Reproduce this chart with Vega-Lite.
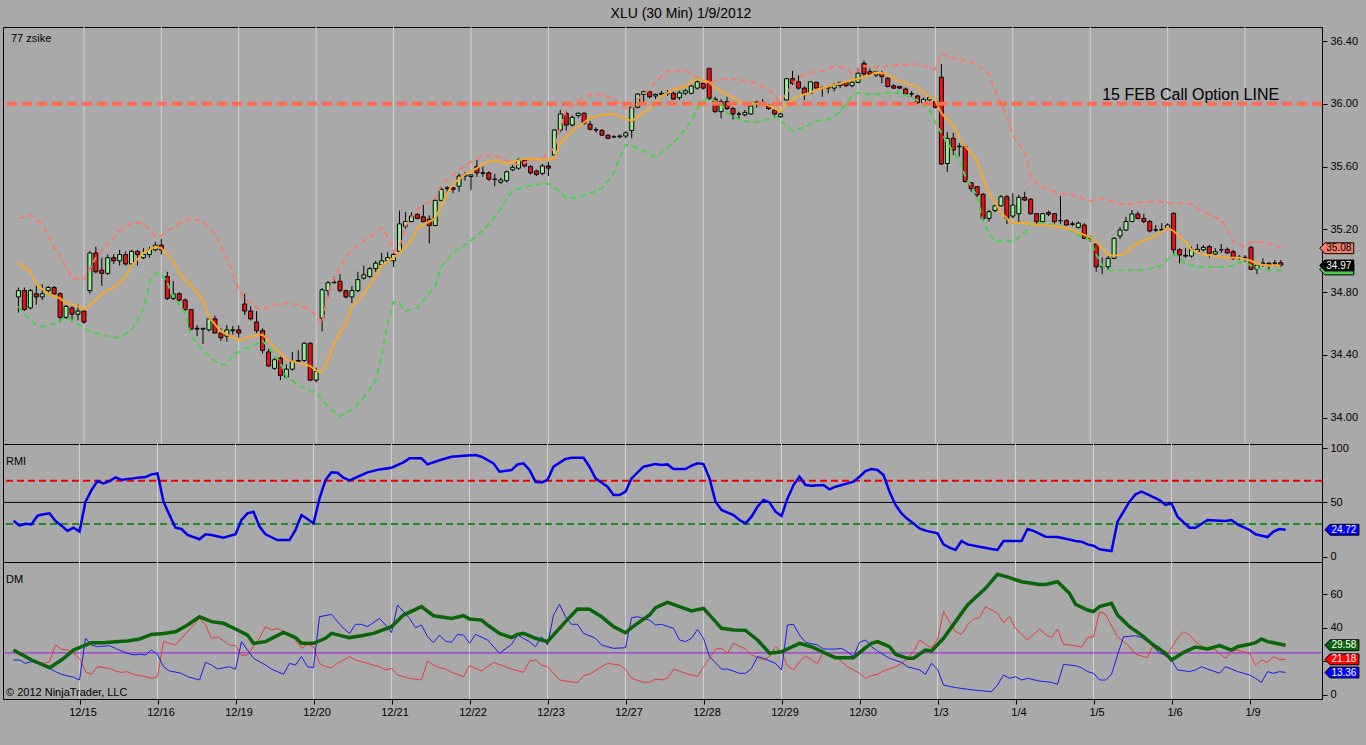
{
  "$schema": "https://vega.github.io/schema/vega-lite/v6.json",
  "background": "#a9a9a9",
  "padding": {"left": 0, "top": 7, "right": 10, "bottom": 30},
  "title": {"text": "XLU (30 Min)  1/9/2012", "fontSize": 14, "fontWeight": "normal", "font": "Liberation Sans", "color": "#000000", "anchor": "middle", "frame": "bounds", "offset": 5},
  "spacing": 0,
  "bounds": "flush",
  "resolve": {"scale": {"color": "independent", "y": "independent"}},
  "datasets": {
    "days": [{"i":11},{"i":24},{"i":37},{"i":50},{"i":63},{"i":76},{"i":89},{"i":102},{"i":115},{"i":128},{"i":141},{"i":154},{"i":167},{"i":180},{"i":193},{"i":206}],
    "candles": [
      {"i":0,"o":34.77,"h":34.83,"l":34.67,"c":34.81},{"i":1,"o":34.81,"h":34.83,"l":34.68,"c":34.69},{"i":2,"o":34.70,"h":34.82,"l":34.69,"c":34.81},{"i":3,"o":34.79,"h":34.86,"l":34.72,"c":34.77},
      {"i":4,"o":34.77,"h":34.85,"l":34.75,"c":34.79},{"i":5,"o":34.81,"h":34.84,"l":34.79,"c":34.83},{"i":6,"o":34.83,"h":34.84,"l":34.78,"c":34.79},{"i":7,"o":34.79,"h":34.80,"l":34.61,"c":34.64},
      {"i":8,"o":34.64,"h":34.72,"l":34.63,"c":34.71},{"i":9,"o":34.70,"h":34.71,"l":34.61,"c":34.66},{"i":10,"o":34.66,"h":34.72,"l":34.62,"c":34.68},{"i":11,"o":34.68,"h":34.70,"l":34.60,"c":34.61},
      {"i":12,"o":34.81,"h":35.06,"l":34.79,"c":35.05},{"i":13,"o":35.05,"h":35.09,"l":34.92,"c":34.93},{"i":14,"o":34.94,"h":35.02,"l":34.84,"c":34.92},{"i":15,"o":34.92,"h":35.04,"l":34.91,"c":35.02},
      {"i":16,"o":35.02,"h":35.04,"l":34.98,"c":35.00},{"i":17,"o":35.00,"h":35.07,"l":34.97,"c":35.04},{"i":18,"o":35.04,"h":35.06,"l":34.97,"c":34.98},{"i":19,"o":34.98,"h":35.07,"l":34.97,"c":35.06},
      {"i":20,"o":35.06,"h":35.07,"l":34.97,"c":35.04},{"i":21,"o":35.02,"h":35.08,"l":35.01,"c":35.04},{"i":22,"o":35.04,"h":35.09,"l":35.02,"c":35.07},{"i":23,"o":35.07,"h":35.12,"l":35.06,"c":35.10},
      {"i":24,"o":35.10,"h":35.14,"l":35.04,"c":35.07},{"i":25,"o":34.90,"h":34.93,"l":34.75,"c":34.76},{"i":26,"o":34.76,"h":34.87,"l":34.75,"c":34.79},{"i":27,"o":34.79,"h":34.80,"l":34.74,"c":34.75},
      {"i":28,"o":34.75,"h":34.76,"l":34.68,"c":34.69},{"i":29,"o":34.69,"h":34.69,"l":34.56,"c":34.565},{"i":30,"o":34.57,"h":34.59,"l":34.52,"c":34.565},{"i":31,"o":34.565,"h":34.57,"l":34.47,"c":34.57},
      {"i":32,"o":34.56,"h":34.65,"l":34.55,"c":34.63},{"i":33,"o":34.63,"h":34.65,"l":34.54,"c":34.54},{"i":34,"o":34.54,"h":34.57,"l":34.49,"c":34.51},{"i":35,"o":34.52,"h":34.59,"l":34.485,"c":34.56},
      {"i":36,"o":34.555,"h":34.585,"l":34.53,"c":34.56},{"i":37,"o":34.56,"h":34.59,"l":34.51,"c":34.54},{"i":38,"o":34.725,"h":34.79,"l":34.655,"c":34.68},{"i":39,"o":34.68,"h":34.71,"l":34.62,"c":34.63},
      {"i":40,"o":34.61,"h":34.68,"l":34.54,"c":34.555},{"i":41,"o":34.555,"h":34.57,"l":34.41,"c":34.43},{"i":42,"o":34.42,"h":34.44,"l":34.325,"c":34.33},{"i":43,"o":34.315,"h":34.38,"l":34.305,"c":34.37},
      {"i":44,"o":34.38,"h":34.39,"l":34.24,"c":34.27},{"i":45,"o":34.26,"h":34.34,"l":34.25,"c":34.31},{"i":46,"o":34.31,"h":34.42,"l":34.30,"c":34.36},{"i":47,"o":34.36,"h":34.43,"l":34.355,"c":34.365},
      {"i":48,"o":34.365,"h":34.48,"l":34.355,"c":34.475},{"i":49,"o":34.475,"h":34.48,"l":34.235,"c":34.24},{"i":50,"o":34.24,"h":34.32,"l":34.225,"c":34.295},{"i":51,"o":34.635,"h":34.825,"l":34.55,"c":34.815},
      {"i":52,"o":34.81,"h":34.87,"l":34.77,"c":34.86},{"i":53,"o":34.86,"h":34.90,"l":34.855,"c":34.865},{"i":54,"o":34.87,"h":34.915,"l":34.80,"c":34.81},{"i":55,"o":34.81,"h":34.815,"l":34.76,"c":34.77},
      {"i":56,"o":34.77,"h":34.84,"l":34.73,"c":34.81},{"i":57,"o":34.81,"h":34.93,"l":34.80,"c":34.88},{"i":58,"o":34.89,"h":34.97,"l":34.88,"c":34.91},{"i":59,"o":34.90,"h":34.96,"l":34.89,"c":34.95},
      {"i":60,"o":34.95,"h":35.00,"l":34.93,"c":34.985},{"i":61,"o":34.975,"h":35.05,"l":34.965,"c":35.00},{"i":62,"o":35.00,"h":35.055,"l":34.99,"c":35.02},{"i":63,"o":35.00,"h":35.05,"l":34.96,"c":35.04},
      {"i":64,"o":35.06,"h":35.32,"l":35.05,"c":35.235},{"i":65,"o":35.22,"h":35.31,"l":35.205,"c":35.25},{"i":66,"o":35.25,"h":35.31,"l":35.245,"c":35.285},{"i":67,"o":35.295,"h":35.305,"l":35.265,"c":35.27},
      {"i":68,"o":35.28,"h":35.355,"l":35.245,"c":35.25},{"i":69,"o":35.265,"h":35.29,"l":35.11,"c":35.225},{"i":70,"o":35.225,"h":35.39,"l":35.22,"c":35.385},{"i":71,"o":35.385,"h":35.475,"l":35.38,"c":35.455},
      {"i":72,"o":35.46,"h":35.475,"l":35.435,"c":35.465},{"i":73,"o":35.465,"h":35.47,"l":35.43,"c":35.455},{"i":74,"o":35.475,"h":35.555,"l":35.44,"c":35.54},{"i":75,"o":35.54,"h":35.565,"l":35.51,"c":35.548},
      {"i":76,"o":35.537,"h":35.55,"l":35.45,"c":35.547},{"i":77,"o":35.60,"h":35.645,"l":35.535,"c":35.56},{"i":78,"o":35.56,"h":35.60,"l":35.535,"c":35.558},{"i":79,"o":35.56,"h":35.57,"l":35.51,"c":35.52},
      {"i":80,"o":35.52,"h":35.555,"l":35.475,"c":35.518},{"i":81,"o":35.50,"h":35.53,"l":35.49,"c":35.515},{"i":82,"o":35.51,"h":35.575,"l":35.50,"c":35.567},{"i":83,"o":35.58,"h":35.61,"l":35.57,"c":35.595},
      {"i":84,"o":35.59,"h":35.655,"l":35.58,"c":35.642},{"i":85,"o":35.64,"h":35.655,"l":35.595,"c":35.604},{"i":86,"o":35.60,"h":35.61,"l":35.55,"c":35.56},{"i":87,"o":35.572,"h":35.58,"l":35.54,"c":35.55},
      {"i":88,"o":35.557,"h":35.617,"l":35.545,"c":35.604},{"i":89,"o":35.604,"h":35.63,"l":35.54,"c":35.59},{"i":90,"o":35.674,"h":35.837,"l":35.668,"c":35.833},{"i":91,"o":35.833,"h":35.96,"l":35.82,"c":35.935},
      {"i":92,"o":35.94,"h":35.955,"l":35.83,"c":35.865},{"i":93,"o":35.865,"h":35.925,"l":35.855,"c":35.914},{"i":94,"o":35.925,"h":35.945,"l":35.91,"c":35.94},{"i":95,"o":35.94,"h":35.945,"l":35.865,"c":35.876},
      {"i":96,"o":35.87,"h":35.89,"l":35.83,"c":35.838},{"i":97,"o":35.835,"h":35.85,"l":35.815,"c":35.833},{"i":98,"o":35.83,"h":35.84,"l":35.795,"c":35.80},{"i":99,"o":35.80,"h":35.805,"l":35.775,"c":35.78},
      {"i":100,"o":35.79,"h":35.80,"l":35.78,"c":35.79},{"i":101,"o":35.79,"h":35.805,"l":35.78,"c":35.795},{"i":102,"o":35.795,"h":35.825,"l":35.78,"c":35.815},{"i":103,"o":35.83,"h":35.98,"l":35.78,"c":35.978},
      {"i":104,"o":35.978,"h":36.067,"l":35.97,"c":36.062},{"i":105,"o":36.06,"h":36.083,"l":36.003,"c":36.077},{"i":106,"o":36.077,"h":36.08,"l":36.035,"c":36.045},{"i":107,"o":36.05,"h":36.065,"l":36.03,"c":36.06},
      {"i":108,"o":36.06,"h":36.083,"l":36.05,"c":36.067},{"i":109,"o":36.065,"h":36.087,"l":36.05,"c":36.07},{"i":110,"o":36.067,"h":36.078,"l":36.025,"c":36.03},{"i":111,"o":36.04,"h":36.083,"l":36.025,"c":36.07},
      {"i":112,"o":36.067,"h":36.095,"l":36.055,"c":36.083},{"i":113,"o":36.067,"h":36.12,"l":36.06,"c":36.113},{"i":114,"o":36.10,"h":36.162,"l":36.09,"c":36.14},{"i":115,"o":36.13,"h":36.15,"l":36.09,"c":36.10},
      {"i":116,"o":36.226,"h":36.226,"l":36.024,"c":36.035},{"i":117,"o":36.03,"h":36.045,"l":35.94,"c":35.95},{"i":118,"o":35.95,"h":36.03,"l":35.907,"c":36.014},{"i":119,"o":36.014,"h":36.045,"l":35.96,"c":35.97},
      {"i":120,"o":35.97,"h":35.98,"l":35.90,"c":35.935},{"i":121,"o":35.935,"h":35.95,"l":35.90,"c":35.935},{"i":122,"o":35.93,"h":35.96,"l":35.92,"c":35.945},{"i":123,"o":35.935,"h":35.99,"l":35.93,"c":35.986},
      {"i":124,"o":36.00,"h":36.02,"l":35.975,"c":36.01},{"i":125,"o":36.00,"h":36.03,"l":35.985,"c":35.998},{"i":126,"o":35.99,"h":36.00,"l":35.96,"c":35.97},{"i":127,"o":35.96,"h":35.97,"l":35.91,"c":35.935},
      {"i":128,"o":35.918,"h":35.95,"l":35.91,"c":35.935},{"i":129,"o":36.024,"h":36.165,"l":36.02,"c":36.16},{"i":130,"o":36.16,"h":36.21,"l":36.12,"c":36.13},{"i":131,"o":36.14,"h":36.18,"l":36.09,"c":36.10},
      {"i":132,"o":36.10,"h":36.11,"l":36.024,"c":36.063},{"i":133,"o":36.067,"h":36.14,"l":36.063,"c":36.14},{"i":134,"o":36.137,"h":36.14,"l":36.095,"c":36.10},{"i":135,"o":36.10,"h":36.11,"l":36.045,"c":36.10},
      {"i":136,"o":36.10,"h":36.115,"l":36.067,"c":36.105},{"i":137,"o":36.10,"h":36.13,"l":36.08,"c":36.12},{"i":138,"o":36.117,"h":36.14,"l":36.10,"c":36.137},{"i":139,"o":36.137,"h":36.14,"l":36.108,"c":36.115},
      {"i":140,"o":36.115,"h":36.145,"l":36.105,"c":36.137},{"i":141,"o":36.137,"h":36.226,"l":36.13,"c":36.195},{"i":142,"o":36.258,"h":36.275,"l":36.18,"c":36.19},{"i":143,"o":36.205,"h":36.225,"l":36.18,"c":36.188},
      {"i":144,"o":36.183,"h":36.21,"l":36.17,"c":36.205},{"i":145,"o":36.195,"h":36.21,"l":36.13,"c":36.173},{"i":146,"o":36.162,"h":36.17,"l":36.105,"c":36.11},{"i":147,"o":36.114,"h":36.125,"l":36.095,"c":36.10},
      {"i":148,"o":36.11,"h":36.115,"l":36.095,"c":36.10},{"i":149,"o":36.094,"h":36.105,"l":36.057,"c":36.063},{"i":150,"o":36.063,"h":36.08,"l":36.045,"c":36.063},{"i":151,"o":36.05,"h":36.057,"l":36.002,"c":36.007},
      {"i":152,"o":36.007,"h":36.04,"l":36.002,"c":36.028},{"i":153,"o":36.025,"h":36.048,"l":36.02,"c":36.04},{"i":154,"o":36.013,"h":36.024,"l":35.97,"c":35.978},{"i":155,"o":36.169,"h":36.253,"l":35.61,"c":35.617},
      {"i":156,"o":35.62,"h":35.82,"l":35.567,"c":35.78},{"i":157,"o":35.78,"h":35.815,"l":35.674,"c":35.706},{"i":158,"o":35.727,"h":35.75,"l":35.665,"c":35.73},{"i":159,"o":35.727,"h":35.74,"l":35.50,"c":35.504},
      {"i":160,"o":35.497,"h":35.50,"l":35.44,"c":35.46},{"i":161,"o":35.472,"h":35.477,"l":35.405,"c":35.42},{"i":162,"o":35.424,"h":35.43,"l":35.25,"c":35.27},{"i":163,"o":35.27,"h":35.325,"l":35.25,"c":35.313},
      {"i":164,"o":35.32,"h":35.36,"l":35.31,"c":35.35},{"i":165,"o":35.35,"h":35.42,"l":35.345,"c":35.408},{"i":166,"o":35.408,"h":35.42,"l":35.234,"c":35.27},{"i":167,"o":35.285,"h":35.43,"l":35.27,"c":35.355},
      {"i":168,"o":35.30,"h":35.42,"l":35.24,"c":35.404},{"i":169,"o":35.404,"h":35.44,"l":35.38,"c":35.387},{"i":170,"o":35.392,"h":35.40,"l":35.295,"c":35.30},{"i":171,"o":35.30,"h":35.305,"l":35.234,"c":35.25},
      {"i":172,"o":35.25,"h":35.305,"l":35.245,"c":35.30},{"i":173,"o":35.308,"h":35.32,"l":35.285,"c":35.297},{"i":174,"o":35.30,"h":35.305,"l":35.235,"c":35.25},{"i":175,"o":35.256,"h":35.413,"l":35.235,"c":35.256},
      {"i":176,"o":35.256,"h":35.265,"l":35.222,"c":35.228},{"i":177,"o":35.235,"h":35.25,"l":35.22,"c":35.233},{"i":178,"o":35.213,"h":35.25,"l":35.205,"c":35.24},{"i":179,"o":35.228,"h":35.24,"l":35.137,"c":35.143},
      {"i":180,"o":35.145,"h":35.16,"l":35.12,"c":35.14},{"i":181,"o":35.107,"h":35.11,"l":34.93,"c":34.962},{"i":182,"o":34.962,"h":35.022,"l":34.915,"c":34.965},{"i":183,"o":34.962,"h":35.03,"l":34.94,"c":35.016},
      {"i":184,"o":35.016,"h":35.15,"l":35.01,"c":35.143},{"i":185,"o":35.158,"h":35.215,"l":35.14,"c":35.196},{"i":186,"o":35.196,"h":35.28,"l":35.19,"c":35.25},{"i":187,"o":35.25,"h":35.323,"l":35.245,"c":35.298},
      {"i":188,"o":35.298,"h":35.315,"l":35.265,"c":35.27},{"i":189,"o":35.27,"h":35.30,"l":35.24,"c":35.25},{"i":190,"o":35.25,"h":35.26,"l":35.18,"c":35.19},{"i":191,"o":35.196,"h":35.228,"l":35.185,"c":35.196},
      {"i":192,"o":35.196,"h":35.24,"l":35.185,"c":35.20},{"i":193,"o":35.20,"h":35.24,"l":35.195,"c":35.228},{"i":194,"o":35.302,"h":35.31,"l":35.03,"c":35.07},{"i":195,"o":35.07,"h":35.08,"l":34.984,"c":35.037},
      {"i":196,"o":35.035,"h":35.08,"l":35.02,"c":35.03},{"i":197,"o":35.03,"h":35.09,"l":35.02,"c":35.07},{"i":198,"o":35.058,"h":35.107,"l":35.05,"c":35.073},{"i":199,"o":35.07,"h":35.10,"l":35.06,"c":35.086},
      {"i":200,"o":35.09,"h":35.10,"l":35.02,"c":35.048},{"i":201,"o":35.043,"h":35.08,"l":35.03,"c":35.058},{"i":202,"o":35.07,"h":35.107,"l":35.05,"c":35.07},{"i":203,"o":35.073,"h":35.085,"l":35.045,"c":35.05},
      {"i":204,"o":35.058,"h":35.07,"l":35.005,"c":35.016},{"i":205,"o":35.022,"h":35.037,"l":35.005,"c":35.022},{"i":206,"o":35.022,"h":35.037,"l":34.99,"c":35.02},{"i":207,"o":35.086,"h":35.095,"l":34.94,"c":34.946},
      {"i":208,"o":34.947,"h":34.975,"l":34.915,"c":34.973},{"i":209,"o":34.985,"h":35.016,"l":34.962,"c":34.984},{"i":210,"o":34.985,"h":34.99,"l":34.94,"c":34.97},{"i":211,"o":34.985,"h":35.005,"l":34.962,"c":34.985},
      {"i":212,"o":34.988,"h":35.005,"l":34.96,"c":34.973}
    ],
    "bbu": [
      {"i":0,"v":35.27},{"i":2,"v":35.29},{"i":4,"v":35.23},{"i":6,"v":35.09},{"i":8,"v":34.96},{"i":9,"v":34.89},{"i":11,"v":34.88},{"i":12,"v":34.95},{"i":13,"v":35.02},{"i":15,"v":35.11},
      {"i":17,"v":35.19},{"i":19,"v":35.24},{"i":21,"v":35.24},{"i":22,"v":35.20},{"i":23,"v":35.15},{"i":24,"v":35.16},{"i":25,"v":35.19},{"i":27,"v":35.24},{"i":29,"v":35.27},{"i":31,"v":35.25},
      {"i":33,"v":35.17},{"i":34,"v":35.09},{"i":35,"v":35.02},{"i":37,"v":34.82},{"i":38,"v":34.76},{"i":40,"v":34.70},{"i":41,"v":34.69},{"i":43,"v":34.72},{"i":45,"v":34.73},{"i":47,"v":34.72},
      {"i":49,"v":34.69},{"i":51,"v":34.60},{"i":52,"v":34.79},{"i":53,"v":34.89},{"i":55,"v":35.03},{"i":57,"v":35.10},{"i":60,"v":35.18},{"i":61,"v":35.21},{"i":62,"v":35.15},{"i":63,"v":35.06},
      {"i":64,"v":35.09},{"i":65,"v":35.22},{"i":67,"v":35.33},{"i":70,"v":35.40},{"i":71,"v":35.48},{"i":73,"v":35.55},{"i":76,"v":35.63},{"i":78,"v":35.67},{"i":80,"v":35.67},{"i":82,"v":35.64},
      {"i":84,"v":35.61},{"i":86,"v":35.64},{"i":88,"v":35.65},{"i":90,"v":35.72},{"i":91,"v":35.85},{"i":92,"v":35.96},{"i":94,"v":36.02},{"i":96,"v":36.06},{"i":98,"v":36.06},{"i":100,"v":36.03},
      {"i":102,"v":35.97},{"i":103,"v":35.97},{"i":104,"v":36.03},{"i":106,"v":36.09},{"i":107,"v":36.14},{"i":109,"v":36.21},{"i":112,"v":36.21},{"i":113,"v":36.19},{"i":115,"v":36.14},{"i":116,"v":36.13},
      {"i":117,"v":36.15},{"i":119,"v":36.16},{"i":122,"v":36.15},{"i":124,"v":36.13},{"i":126,"v":36.09},{"i":128,"v":36.01},{"i":129,"v":36.07},{"i":131,"v":36.17},{"i":133,"v":36.20},{"i":135,"v":36.21},
      {"i":137,"v":36.24},{"i":139,"v":36.23},{"i":140,"v":36.19},{"i":141,"v":36.21},{"i":142,"v":36.24},{"i":144,"v":36.23},{"i":146,"v":36.24},{"i":148,"v":36.25},{"i":151,"v":36.25},{"i":152,"v":36.24},
      {"i":154,"v":36.22},{"i":155,"v":36.32},{"i":157,"v":36.29},{"i":158,"v":36.27},{"i":159,"v":36.28},{"i":161,"v":36.25},{"i":163,"v":36.19},{"i":164,"v":36.09},{"i":166,"v":35.92},{"i":167,"v":35.80},
      {"i":169,"v":35.69},{"i":170,"v":35.54},{"i":171,"v":35.49},{"i":173,"v":35.45},{"i":175,"v":35.43},{"i":177,"v":35.42},{"i":178,"v":35.41},{"i":180,"v":35.38},{"i":182,"v":35.40},{"i":184,"v":35.37},
      {"i":186,"v":35.36},{"i":188,"v":35.37},{"i":191,"v":35.38},{"i":193,"v":35.37},{"i":194,"v":35.36},{"i":196,"v":35.37},{"i":197,"v":35.36},{"i":199,"v":35.31},{"i":202,"v":35.26},{"i":203,"v":35.20},
      {"i":204,"v":35.12},{"i":206,"v":35.09},{"i":207,"v":35.12},{"i":209,"v":35.12},{"i":212,"v":35.08}
    ],
    "bbl": [
      {"i":0,"v":34.71},{"i":1,"v":34.66},{"i":3,"v":34.59},{"i":4,"v":34.58},{"i":6,"v":34.60},{"i":8,"v":34.64},{"i":9,"v":34.62},{"i":11,"v":34.57},{"i":13,"v":34.54},{"i":15,"v":34.52},
      {"i":17,"v":34.51},{"i":19,"v":34.56},{"i":21,"v":34.69},{"i":22,"v":34.86},{"i":23,"v":34.92},{"i":24,"v":34.92},{"i":25,"v":34.86},{"i":26,"v":34.77},{"i":28,"v":34.67},{"i":29,"v":34.52},
      {"i":31,"v":34.43},{"i":33,"v":34.36},{"i":34,"v":34.34},{"i":35,"v":34.34},{"i":36,"v":34.40},{"i":38,"v":34.44},{"i":39,"v":34.45},{"i":41,"v":34.49},{"i":42,"v":34.45},{"i":44,"v":34.35},
      {"i":45,"v":34.26},{"i":47,"v":34.21},{"i":49,"v":34.17},{"i":50,"v":34.16},{"i":52,"v":34.07},{"i":54,"v":34.01},{"i":56,"v":34.05},{"i":58,"v":34.13},{"i":60,"v":34.24},{"i":61,"v":34.39},
      {"i":62,"v":34.60},{"i":63,"v":34.74},{"i":64,"v":34.73},{"i":65,"v":34.68},{"i":67,"v":34.70},{"i":70,"v":34.84},{"i":71,"v":34.96},{"i":73,"v":35.05},{"i":76,"v":35.13},{"i":78,"v":35.19},
      {"i":80,"v":35.28},{"i":82,"v":35.39},{"i":83,"v":35.45},{"i":86,"v":35.48},{"i":88,"v":35.49},{"i":89,"v":35.49},{"i":91,"v":35.44},{"i":92,"v":35.40},{"i":93,"v":35.40},{"i":96,"v":35.43},
      {"i":98,"v":35.46},{"i":100,"v":35.56},{"i":101,"v":35.66},{"i":102,"v":35.74},{"i":103,"v":35.73},{"i":105,"v":35.70},{"i":107,"v":35.66},{"i":109,"v":35.72},{"i":111,"v":35.79},{"i":113,"v":35.89},
      {"i":114,"v":35.97},{"i":115,"v":36.02},{"i":116,"v":36.035},{"i":118,"v":36.00},{"i":119,"v":35.94},{"i":121,"v":35.90},{"i":123,"v":35.88},{"i":125,"v":35.89},{"i":127,"v":35.92},{"i":128,"v":35.89},
      {"i":130,"v":35.83},{"i":132,"v":35.85},{"i":134,"v":35.89},{"i":136,"v":35.90},{"i":138,"v":35.95},{"i":140,"v":36.05},{"i":141,"v":36.07},{"i":143,"v":36.06},{"i":144,"v":36.06},{"i":146,"v":36.07},
      {"i":148,"v":36.07},{"i":150,"v":36.04},{"i":152,"v":36.00},{"i":153,"v":35.96},{"i":154,"v":35.88},{"i":156,"v":35.75},{"i":158,"v":35.64},{"i":159,"v":35.54},{"i":161,"v":35.41},{"i":162,"v":35.25},
      {"i":163,"v":35.18},{"i":164,"v":35.12},{"i":166,"v":35.13},{"i":167,"v":35.12},{"i":169,"v":35.18},{"i":170,"v":35.23},{"i":172,"v":35.24},{"i":174,"v":35.23},{"i":176,"v":35.21},{"i":178,"v":35.16},
      {"i":180,"v":35.13},{"i":181,"v":35.04},{"i":182,"v":34.97},{"i":183,"v":34.94},{"i":185,"v":34.94},{"i":187,"v":34.94},{"i":189,"v":34.94},{"i":192,"v":34.97},{"i":193,"v":35.01},{"i":194,"v":35.04},
      {"i":195,"v":35.03},{"i":196,"v":34.98},{"i":198,"v":34.96},{"i":200,"v":34.96},{"i":203,"v":34.96},{"i":204,"v":34.97},{"i":205,"v":34.99},{"i":206,"v":34.99},{"i":207,"v":34.97},{"i":208,"v":34.95},
      {"i":210,"v":34.94},{"i":212,"v":34.94}
    ],
    "sma": [
      {"i":0,"v":34.99},{"i":2,"v":34.93},{"i":3,"v":34.85},{"i":5,"v":34.79},{"i":7,"v":34.76},{"i":8,"v":34.73},{"i":10,"v":34.71},{"i":11,"v":34.69},{"i":13,"v":34.75},{"i":14,"v":34.79},
      {"i":16,"v":34.83},{"i":18,"v":34.90},{"i":19,"v":34.97},{"i":21,"v":35.05},{"i":23,"v":35.09},{"i":24,"v":35.08},{"i":26,"v":35.00},{"i":27,"v":34.92},{"i":29,"v":34.84},{"i":31,"v":34.75},
      {"i":32,"v":34.64},{"i":34,"v":34.55},{"i":36,"v":34.51},{"i":37,"v":34.49},{"i":39,"v":34.52},{"i":41,"v":34.53},{"i":42,"v":34.49},{"i":44,"v":34.41},{"i":45,"v":34.37},{"i":47,"v":34.35},
      {"i":49,"v":34.33},{"i":50,"v":34.30},{"i":51,"v":34.29},{"i":52,"v":34.37},{"i":53,"v":34.48},{"i":55,"v":34.60},{"i":56,"v":34.71},{"i":58,"v":34.79},{"i":60,"v":34.90},{"i":61,"v":34.97},
      {"i":63,"v":35.02},{"i":64,"v":35.05},{"i":66,"v":35.13},{"i":67,"v":35.21},{"i":70,"v":35.27},{"i":72,"v":35.43},{"i":73,"v":35.49},{"i":75,"v":35.55},{"i":77,"v":35.59},{"i":78,"v":35.62},
      {"i":80,"v":35.64},{"i":82,"v":35.62},{"i":83,"v":35.63},{"i":85,"v":35.65},{"i":87,"v":35.65},{"i":88,"v":35.64},{"i":90,"v":35.65},{"i":91,"v":35.75},{"i":93,"v":35.83},{"i":95,"v":35.88},
      {"i":96,"v":35.91},{"i":98,"v":35.93},{"i":100,"v":35.935},{"i":101,"v":35.92},{"i":103,"v":35.89},{"i":104,"v":35.92},{"i":106,"v":35.97},{"i":108,"v":36.05},{"i":110,"v":36.09},{"i":112,"v":36.11},
      {"i":113,"v":36.14},{"i":114,"v":36.156},{"i":116,"v":36.14},{"i":117,"v":36.10},{"i":119,"v":36.06},{"i":121,"v":36.02},{"i":122,"v":36.00},{"i":124,"v":36.00},{"i":126,"v":35.99},{"i":127,"v":35.97},
      {"i":128,"v":35.95},{"i":129,"v":36.00},{"i":131,"v":36.05},{"i":133,"v":36.07},{"i":134,"v":36.09},{"i":136,"v":36.11},{"i":138,"v":36.13},{"i":139,"v":36.14},{"i":141,"v":36.16},{"i":143,"v":36.18},
      {"i":144,"v":36.20},{"i":146,"v":36.19},{"i":147,"v":36.16},{"i":149,"v":36.13},{"i":151,"v":36.11},{"i":152,"v":36.07},{"i":154,"v":36.02},{"i":155,"v":35.94},{"i":157,"v":35.86},{"i":158,"v":35.79},
      {"i":159,"v":35.73},{"i":161,"v":35.64},{"i":162,"v":35.53},{"i":163,"v":35.43},{"i":164,"v":35.37},{"i":165,"v":35.31},{"i":166,"v":35.27},{"i":167,"v":35.24},{"i":169,"v":35.24},{"i":171,"v":35.23},
      {"i":172,"v":35.23},{"i":174,"v":35.22},{"i":176,"v":35.21},{"i":178,"v":35.18},{"i":180,"v":35.15},{"i":181,"v":35.12},{"i":182,"v":35.08},{"i":183,"v":35.04},{"i":184,"v":35.03},{"i":186,"v":35.05},
      {"i":187,"v":35.09},{"i":189,"v":35.13},{"i":191,"v":35.16},{"i":193,"v":35.21},{"i":194,"v":35.19},{"i":196,"v":35.12},{"i":197,"v":35.07},{"i":199,"v":35.04},{"i":201,"v":35.03},{"i":203,"v":35.02},
      {"i":205,"v":35.02},{"i":207,"v":35.00},{"i":208,"v":34.98},{"i":210,"v":34.97},{"i":212,"v":34.97}
    ],
    "hline": [{"v": 36.0, "t": "15 FEB Call Option LINE"}],
    "ptags": [{"s": "lower", "v": 34.945}, {"s": "upper", "v": 35.08}, {"s": "close", "v": 34.97}],
    "rmi": [
      {"i":0,"v":33},{"i":1,"v":28.5},{"i":2,"v":30.3},{"i":3,"v":29.7},{"i":4,"v":37.7},{"i":5,"v":39},{"i":6,"v":39.9},{"i":7,"v":32.8},{"i":8,"v":28.5},{"i":9,"v":23.6},
      {"i":10,"v":26.6},{"i":11,"v":23},{"i":12,"v":50.7},{"i":13,"v":61.4},{"i":14,"v":69.7},{"i":15,"v":67.6},{"i":16,"v":69.7},{"i":17,"v":73.1},{"i":18,"v":70.7},{"i":19,"v":71.6},
      {"i":20,"v":72.2},{"i":21,"v":73.1},{"i":22,"v":73.4},{"i":23,"v":75.9},{"i":24,"v":76.8},{"i":25,"v":50.7},{"i":26,"v":38.3},{"i":27,"v":26.6},{"i":28,"v":25.4},{"i":29,"v":19.9},
      {"i":31,"v":15.9},{"i":32,"v":20.5},{"i":33,"v":19.9},{"i":35,"v":17.4},{"i":37,"v":20.5},{"i":38,"v":33.7},{"i":39,"v":39.9},{"i":40,"v":41.4},{"i":41,"v":27.6},{"i":42,"v":20.5},
      {"i":44,"v":15.2},{"i":46,"v":15.2},{"i":47,"v":24.5},{"i":48,"v":38.3},{"i":49,"v":34.6},{"i":50,"v":30.6},{"i":51,"v":53.7},{"i":52,"v":70.7},{"i":53,"v":77.8},{"i":54,"v":77.4},
      {"i":55,"v":72.8},{"i":56,"v":70.4},{"i":57,"v":72.8},{"i":59,"v":77.8},{"i":61,"v":80.5},{"i":63,"v":82.1},{"i":65,"v":87},{"i":66,"v":90.7},{"i":68,"v":90.7},{"i":69,"v":85.1},
      {"i":71,"v":89},{"i":73,"v":92.2},{"i":75,"v":93.1},{"i":77,"v":93.8},{"i":78,"v":92.2},{"i":80,"v":86.1},{"i":81,"v":78.4},{"i":83,"v":79.9},{"i":84,"v":85.1},{"i":85,"v":86.1},
      {"i":86,"v":80},{"i":87,"v":69.1},{"i":88,"v":68.5},{"i":89,"v":70.7},{"i":90,"v":83},{"i":92,"v":90.1},{"i":93,"v":91.3},{"i":95,"v":91.3},{"i":96,"v":83},{"i":97,"v":72.2},
      {"i":99,"v":64.5},{"i":100,"v":56.8},{"i":101,"v":56.8},{"i":102,"v":59.9},{"i":103,"v":72.2},{"i":105,"v":83},{"i":107,"v":85.4},{"i":108,"v":84.5},{"i":109,"v":85.1},{"i":110,"v":80.8},
      {"i":112,"v":80.8},{"i":113,"v":83.9},{"i":114,"v":86.1},{"i":115,"v":85.4},{"i":116,"v":72.2},{"i":117,"v":50.7},{"i":118,"v":43},{"i":120,"v":38.3},{"i":121,"v":33.7},{"i":122,"v":30.6},
      {"i":123,"v":36.8},{"i":124,"v":46},{"i":125,"v":52.2},{"i":126,"v":50},{"i":127,"v":41.4},{"i":128,"v":37.4},{"i":129,"v":53.7},{"i":130,"v":66},{"i":131,"v":73.7},{"i":132,"v":66},
      {"i":133,"v":65.4},{"i":135,"v":66},{"i":136,"v":62},{"i":137,"v":64.5},{"i":139,"v":67.6},{"i":140,"v":69.1},{"i":141,"v":73.7},{"i":142,"v":79},{"i":143,"v":80.8},{"i":144,"v":79.9},
      {"i":145,"v":75.3},{"i":146,"v":59.9},{"i":147,"v":47.6},{"i":148,"v":39.9},{"i":149,"v":34.6},{"i":150,"v":30.6},{"i":151,"v":26},{"i":152,"v":23.9},{"i":154,"v":21.4},{"i":155,"v":11.2},
      {"i":156,"v":8.2},{"i":157,"v":6},{"i":158,"v":14.3},{"i":159,"v":11.2},{"i":161,"v":9.1},{"i":163,"v":6.9},{"i":164,"v":6},{"i":165,"v":14.3},{"i":168,"v":14.3},{"i":169,"v":25.4},
      {"i":170,"v":23.6},{"i":172,"v":18.3},{"i":174,"v":18},{"i":175,"v":16.8},{"i":177,"v":14.3},{"i":178,"v":13.7},{"i":179,"v":11.2},{"i":180,"v":10},{"i":181,"v":6.6},{"i":183,"v":5.1},
      {"i":184,"v":32.2},{"i":186,"v":50.7},{"i":187,"v":57.4},{"i":188,"v":59.9},{"i":189,"v":57.4},{"i":191,"v":52.2},{"i":192,"v":47.6},{"i":193,"v":49.1},{"i":194,"v":36.8},{"i":196,"v":26.6},
      {"i":197,"v":26.6},{"i":199,"v":33.7},{"i":201,"v":33.1},{"i":202,"v":32.8},{"i":203,"v":33.7},{"i":204,"v":29.7},{"i":206,"v":24.5},{"i":207,"v":20.5},{"i":209,"v":18},{"i":210,"v":23},
      {"i":211,"v":25.4},{"i":212,"v":24.7}
    ],
    "rmilevels": [{"s": "hi", "v": 70}, {"s": "mid", "v": 50}, {"s": "lo", "v": 30}],
    "rtags": [{"s": "rmi", "v": 24.72}],
    "adx": [
      {"i":0,"v":26.7},{"i":3,"v":20.8},{"i":6,"v":16.2},{"i":8,"v":20.8},{"i":10,"v":26.7},{"i":12,"v":29.7},{"i":13,"v":31.1},{"i":15,"v":31.1},{"i":17,"v":31.7},{"i":19,"v":32.1},
      {"i":21,"v":33.3},{"i":23,"v":36},{"i":25,"v":36.6},{"i":27,"v":37.6},{"i":29,"v":41.6},{"i":31,"v":46.5},{"i":33,"v":43.6},{"i":35,"v":42.6},{"i":37,"v":39.2},{"i":39,"v":35.6},
      {"i":40,"v":30.7},{"i":42,"v":31.7},{"i":45,"v":37.2},{"i":47,"v":34.1},{"i":48,"v":30.7},{"i":50,"v":30.7},{"i":52,"v":33.7},{"i":53,"v":36.6},{"i":56,"v":34.1},{"i":58,"v":35.2},
      {"i":60,"v":36.6},{"i":63,"v":40.6},{"i":65,"v":47.5},{"i":68,"v":52.5},{"i":70,"v":47.1},{"i":73,"v":45.5},{"i":75,"v":47.1},{"i":76,"v":45.1},{"i":78,"v":44.5},{"i":79,"v":41.6},
      {"i":81,"v":36.6},{"i":83,"v":34.1},{"i":84,"v":36},{"i":85,"v":36.6},{"i":87,"v":33.7},{"i":88,"v":32.7},{"i":89,"v":31.7},{"i":92,"v":43.6},{"i":94,"v":51.1},{"i":96,"v":50.9},
      {"i":98,"v":46.5},{"i":100,"v":40.6},{"i":102,"v":37},{"i":103,"v":40},{"i":106,"v":47.5},{"i":107,"v":51.9},{"i":109,"v":55},{"i":111,"v":52.5},{"i":113,"v":49.9},{"i":115,"v":51.5},
      {"i":117,"v":43.6},{"i":118,"v":39.6},{"i":120,"v":38.6},{"i":122,"v":38.4},{"i":124,"v":32.7},{"i":126,"v":24.8},{"i":128,"v":25.7},{"i":131,"v":30.7},{"i":133,"v":28.7},{"i":135,"v":25.3},
      {"i":137,"v":22.2},{"i":140,"v":22.2},{"i":142,"v":28.1},{"i":143,"v":30.7},{"i":144,"v":31.7},{"i":146,"v":28.7},{"i":147,"v":24.2},{"i":149,"v":21.8},{"i":150,"v":21.8},{"i":152,"v":26.7},
      {"i":153,"v":26.1},{"i":155,"v":33.7},{"i":157,"v":43.6},{"i":159,"v":53.5},{"i":162,"v":63.4},{"i":164,"v":71.7},{"i":166,"v":69.7},{"i":168,"v":67.3},{"i":171,"v":65.7},{"i":172,"v":65.7},
      {"i":174,"v":67.3},{"i":176,"v":60.4},{"i":177,"v":53.9},{"i":179,"v":50.5},{"i":180,"v":49.5},{"i":181,"v":52.5},{"i":183,"v":54.5},{"i":184,"v":47.5},{"i":186,"v":40.6},{"i":188,"v":35.6},
      {"i":190,"v":29.7},{"i":192,"v":24.8},{"i":193,"v":20.8},{"i":195,"v":25.3},{"i":197,"v":28.5},{"i":199,"v":27.3},{"i":201,"v":29.3},{"i":203,"v":26.7},{"i":204,"v":28.7},{"i":206,"v":30.1},
      {"i":207,"v":31.1},{"i":208,"v":33.3},{"i":209,"v":31.7},{"i":211,"v":30.3},{"i":212,"v":29.6}
    ],
    "dip": [
      {"i":0,"v":20.8},{"i":1,"v":20.8},{"i":2,"v":18.8},{"i":3,"v":19.8},{"i":5,"v":17.8},{"i":7,"v":13.9},{"i":8,"v":12.3},{"i":10,"v":10.5},{"i":11,"v":8.9},{"i":12,"v":33.7},
      {"i":13,"v":29.7},{"i":14,"v":28.7},{"i":16,"v":29.3},{"i":17,"v":27.7},{"i":18,"v":26.1},{"i":19,"v":24.8},{"i":20,"v":23.8},{"i":21,"v":24.2},{"i":22,"v":23.8},{"i":23,"v":26.7},
      {"i":24,"v":24.2},{"i":25,"v":16.8},{"i":26,"v":14.3},{"i":28,"v":12.9},{"i":29,"v":10.9},{"i":31,"v":8.9},{"i":32,"v":19.4},{"i":33,"v":17.8},{"i":34,"v":15.4},{"i":35,"v":16.2},
      {"i":36,"v":16.8},{"i":37,"v":15.3},{"i":38,"v":31.7},{"i":39,"v":26.7},{"i":40,"v":21.8},{"i":42,"v":17.8},{"i":43,"v":15.4},{"i":45,"v":12.3},{"i":46,"v":18.8},{"i":47,"v":17.8},
      {"i":48,"v":22.8},{"i":49,"v":16.8},{"i":50,"v":16.2},{"i":51,"v":46.5},{"i":53,"v":47.9},{"i":54,"v":43.6},{"i":55,"v":39.6},{"i":56,"v":36.6},{"i":57,"v":42},{"i":58,"v":42},
      {"i":59,"v":40.6},{"i":61,"v":45.5},{"i":62,"v":41.6},{"i":63,"v":37},{"i":64,"v":53.5},{"i":66,"v":45.5},{"i":67,"v":40},{"i":68,"v":41.6},{"i":69,"v":34.7},{"i":70,"v":31.1},
      {"i":71,"v":35.6},{"i":72,"v":32},{"i":73,"v":31.3},{"i":74,"v":36},{"i":75,"v":35.6},{"i":76,"v":30.7},{"i":77,"v":36},{"i":79,"v":32.7},{"i":81,"v":24.8},{"i":83,"v":30.1},
      {"i":84,"v":35.6},{"i":86,"v":31.7},{"i":87,"v":28.7},{"i":88,"v":34.6},{"i":89,"v":29.7},{"i":90,"v":47.5},{"i":91,"v":53.9},{"i":92,"v":46.5},{"i":93,"v":42},{"i":94,"v":42},
      {"i":95,"v":36.6},{"i":97,"v":33.7},{"i":98,"v":29.7},{"i":100,"v":27.7},{"i":102,"v":28.1},{"i":103,"v":45.9},{"i":104,"v":46.5},{"i":106,"v":44.5},{"i":107,"v":41.6},{"i":108,"v":42},
      {"i":110,"v":39.6},{"i":111,"v":32.7},{"i":112,"v":31.7},{"i":113,"v":33.7},{"i":114,"v":39},{"i":115,"v":33.7},{"i":116,"v":22.8},{"i":118,"v":15.4},{"i":119,"v":15.4},{"i":121,"v":12.9},
      {"i":122,"v":12.9},{"i":123,"v":15.8},{"i":124,"v":22.8},{"i":125,"v":21.8},{"i":127,"v":18.8},{"i":128,"v":14.9},{"i":129,"v":41.6},{"i":130,"v":42},{"i":131,"v":35.6},{"i":132,"v":31.3},
      {"i":134,"v":29.7},{"i":135,"v":27.3},{"i":137,"v":27.3},{"i":138,"v":27.7},{"i":139,"v":25.7},{"i":140,"v":22.8},{"i":141,"v":31.3},{"i":142,"v":32.7},{"i":143,"v":28.7},{"i":144,"v":26.1},
      {"i":146,"v":21.8},{"i":148,"v":19.4},{"i":149,"v":16.8},{"i":151,"v":14.9},{"i":152,"v":12.3},{"i":153,"v":18.8},{"i":154,"v":15.4},{"i":155,"v":5.9},{"i":157,"v":4.4},{"i":159,"v":3.4},
      {"i":161,"v":2.6},{"i":163,"v":2},{"i":164,"v":5.9},{"i":165,"v":11.9},{"i":166,"v":9.9},{"i":167,"v":10.9},{"i":168,"v":8.9},{"i":169,"v":9.9},{"i":171,"v":8.3},{"i":173,"v":7.5},
      {"i":174,"v":6.3},{"i":175,"v":18.2},{"i":177,"v":17.4},{"i":178,"v":16.2},{"i":179,"v":13.9},{"i":180,"v":12.9},{"i":181,"v":8.9},{"i":182,"v":8.9},{"i":183,"v":12.3},{"i":184,"v":23.8},
      {"i":185,"v":34.6},{"i":187,"v":35.2},{"i":188,"v":34.1},{"i":189,"v":31.7},{"i":190,"v":28.7},{"i":191,"v":24.8},{"i":192,"v":23.8},{"i":193,"v":20.8},{"i":194,"v":14.9},{"i":196,"v":13.9},
      {"i":197,"v":14.9},{"i":198,"v":16.8},{"i":199,"v":15.4},{"i":201,"v":12.9},{"i":202,"v":16.8},{"i":203,"v":15.4},{"i":204,"v":13.9},{"i":206,"v":11.9},{"i":207,"v":9.9},{"i":208,"v":7.5},
      {"i":209,"v":13.9},{"i":210,"v":12.9},{"i":211,"v":13.9},{"i":212,"v":13.4}
    ],
    "dim": [
      {"i":0,"v":26.7},{"i":2,"v":23.8},{"i":3,"v":20.8},{"i":5,"v":18.8},{"i":6,"v":19.8},{"i":7,"v":29.7},{"i":8,"v":27.3},{"i":9,"v":26.7},{"i":10,"v":24.8},{"i":11,"v":21.8},
      {"i":12,"v":13.9},{"i":13,"v":12.3},{"i":14,"v":16.8},{"i":16,"v":15.8},{"i":17,"v":14.3},{"i":18,"v":13.3},{"i":19,"v":13.9},{"i":20,"v":12.3},{"i":22,"v":10.9},{"i":23,"v":9.9},
      {"i":24,"v":10.9},{"i":25,"v":31.7},{"i":26,"v":30.7},{"i":27,"v":29.7},{"i":29,"v":37.6},{"i":31,"v":45.5},{"i":32,"v":41.6},{"i":33,"v":33.7},{"i":34,"v":34.6},{"i":36,"v":29.7},
      {"i":37,"v":29.3},{"i":38,"v":23.4},{"i":39,"v":23.8},{"i":41,"v":33.7},{"i":42,"v":40.6},{"i":43,"v":38.6},{"i":44,"v":39.6},{"i":46,"v":35.6},{"i":47,"v":32.7},{"i":48,"v":27.7},
      {"i":49,"v":30.1},{"i":50,"v":28.7},{"i":51,"v":18.8},{"i":52,"v":16.8},{"i":53,"v":16.2},{"i":54,"v":18.8},{"i":56,"v":22.8},{"i":57,"v":20.8},{"i":59,"v":18.8},{"i":61,"v":16.8},
      {"i":62,"v":14.9},{"i":63,"v":15.8},{"i":64,"v":11.9},{"i":66,"v":9.9},{"i":68,"v":8.9},{"i":69,"v":20.2},{"i":70,"v":17.8},{"i":71,"v":16.2},{"i":72,"v":15.4},{"i":73,"v":13.5},
      {"i":75,"v":10.9},{"i":76,"v":17.4},{"i":77,"v":15.8},{"i":78,"v":14.3},{"i":80,"v":19.4},{"i":82,"v":16.8},{"i":83,"v":15.4},{"i":85,"v":13.5},{"i":86,"v":20.2},{"i":87,"v":20.8},
      {"i":88,"v":17.8},{"i":89,"v":16.8},{"i":90,"v":12.9},{"i":91,"v":8.9},{"i":94,"v":7.3},{"i":95,"v":11.5},{"i":96,"v":12.3},{"i":98,"v":16.8},{"i":99,"v":18.8},{"i":101,"v":17.8},
      {"i":102,"v":15.4},{"i":103,"v":9.9},{"i":105,"v":7.5},{"i":106,"v":7.5},{"i":107,"v":9.5},{"i":108,"v":8.9},{"i":109,"v":9.9},{"i":110,"v":15.4},{"i":112,"v":12.9},{"i":114,"v":10.9},
      {"i":115,"v":16.8},{"i":116,"v":21.8},{"i":117,"v":27.3},{"i":118,"v":27.7},{"i":119,"v":24.8},{"i":120,"v":30.7},{"i":122,"v":27.3},{"i":123,"v":23.8},{"i":125,"v":20.8},{"i":126,"v":22.8},
      {"i":127,"v":28.7},{"i":128,"v":25.7},{"i":129,"v":17.4},{"i":130,"v":14.9},{"i":131,"v":19.8},{"i":132,"v":23.2},{"i":133,"v":20.8},{"i":134,"v":18.8},{"i":135,"v":25.7},{"i":137,"v":22.8},
      {"i":139,"v":16.8},{"i":141,"v":12.9},{"i":142,"v":9.9},{"i":143,"v":11.5},{"i":144,"v":12.3},{"i":145,"v":14.3},{"i":147,"v":16.8},{"i":148,"v":18.8},{"i":149,"v":21.8},{"i":150,"v":25.7},
      {"i":151,"v":32.7},{"i":152,"v":30.1},{"i":153,"v":28.1},{"i":154,"v":32.7},{"i":155,"v":49.5},{"i":156,"v":43.6},{"i":157,"v":37.6},{"i":158,"v":36},{"i":159,"v":41.6},{"i":160,"v":45.1},
      {"i":161,"v":45.9},{"i":162,"v":52.5},{"i":164,"v":48.5},{"i":165,"v":43},{"i":166,"v":46.5},{"i":167,"v":39.6},{"i":169,"v":32.7},{"i":170,"v":36},{"i":171,"v":39.2},{"i":172,"v":36},
      {"i":173,"v":34.1},{"i":174,"v":39.2},{"i":175,"v":30.1},{"i":177,"v":29.3},{"i":178,"v":28.5},{"i":179,"v":34.1},{"i":180,"v":34.6},{"i":181,"v":49.5},{"i":182,"v":47.9},{"i":184,"v":34.6},
      {"i":186,"v":28.7},{"i":187,"v":24.2},{"i":189,"v":22.2},{"i":190,"v":30.1},{"i":191,"v":28.7},{"i":192,"v":22.8},{"i":193,"v":28},{"i":194,"v":33.7},{"i":195,"v":37.6},{"i":196,"v":35.6},
      {"i":197,"v":31.7},{"i":199,"v":26.7},{"i":200,"v":27.3},{"i":201,"v":24.8},{"i":202,"v":21.8},{"i":203,"v":26.1},{"i":204,"v":26.7},{"i":206,"v":24.8},{"i":207,"v":17.8},{"i":208,"v":20.8},
      {"i":209,"v":19.4},{"i":210,"v":22.8},{"i":211,"v":21.2},{"i":212,"v":21.2}
    ],
    "dmlevel": [{"v": 25}],
    "dtags": [{"s": "adx", "v": 29.58}, {"s": "dim", "v": 21.18}, {"s": "dip", "v": 13.36}]
  },
  "vconcat": [
    {
      "width": 1319,
      "height": 417,
      "layer": [
        {
          "data": {"name": "days"},
          "mark": {"type": "rule", "color": "#d2d2d2", "strokeWidth": 1},
          "encoding": {
            "x": {"field": "i", "type": "quantitative", "scale": {"domain": [-1.75, 218.08], "nice": false, "zero": false}, "axis": null}
          }
        },
        {
          "data": {"name": "candles"},
          "mark": {"type": "rule", "color": "#000000", "strokeWidth": 1},
          "encoding": {
            "x": {"field": "i", "type": "quantitative", "scale": {"domain": [-1.75, 218.08], "nice": false, "zero": false}, "axis": null},
            "y": {"field": "l", "type": "quantitative", "scale": {"domain": [33.8331, 36.4892], "nice": false, "zero": false}, "title": null, "axis": {"orient": "right", "values": [34,34.2,34.4,34.6,34.8,35,35.2,35.4,35.6,35.8,36,36.2,36.4], "format": ".2f", "labelExpr": "datum.value === 35 ? '' : datum.label", "grid": false, "tickSize": 5, "labelPadding": 3, "title": null}},
            "y2": {"field": "h"}
          }
        },
        {
          "data": {"name": "candles"},
          "mark": {"type": "bar", "width": 4, "stroke": "#000000", "strokeWidth": 1},
          "encoding": {
            "x": {"field": "i", "type": "quantitative", "scale": {"domain": [-1.75, 218.08], "nice": false, "zero": false}, "axis": null},
            "y": {"field": "o", "type": "quantitative", "scale": {"domain": [33.8331, 36.4892], "nice": false, "zero": false}, "title": null},
            "y2": {"field": "c"},
            "fill": {"condition": {"test": "datum.c < datum.o", "value": "#ee1111"}, "value": "#98ec98"}
          }
        },
        {
          "data": {"name": "bbu"},
          "mark": {"type": "line", "color": "#f27b6c", "strokeWidth": 2, "strokeDash": [6, 4]},
          "encoding": {
            "x": {"field": "i", "type": "quantitative", "scale": {"domain": [-1.75, 218.08], "nice": false, "zero": false}, "axis": null},
            "y": {"field": "v", "type": "quantitative", "scale": {"domain": [33.8331, 36.4892], "nice": false, "zero": false}, "title": null}
          }
        },
        {
          "data": {"name": "bbl"},
          "mark": {"type": "line", "color": "#4ccf4c", "strokeWidth": 2, "strokeDash": [6, 4]},
          "encoding": {
            "x": {"field": "i", "type": "quantitative", "scale": {"domain": [-1.75, 218.08], "nice": false, "zero": false}, "axis": null},
            "y": {"field": "v", "type": "quantitative", "scale": {"domain": [33.8331, 36.4892], "nice": false, "zero": false}, "title": null}
          }
        },
        {
          "data": {"name": "sma"},
          "mark": {"type": "line", "color": "#f7a82a", "strokeWidth": 2},
          "encoding": {
            "x": {"field": "i", "type": "quantitative", "scale": {"domain": [-1.75, 218.08], "nice": false, "zero": false}, "axis": null},
            "y": {"field": "v", "type": "quantitative", "scale": {"domain": [33.8331, 36.4892], "nice": false, "zero": false}, "title": null}
          }
        },
        {
          "data": {"name": "hline"},
          "mark": {"type": "rule", "color": "#ff6a50", "strokeWidth": 4, "strokeDash": [10, 5]},
          "encoding": {
            "y": {"field": "v", "type": "quantitative", "scale": {"domain": [33.8331, 36.4892], "nice": false, "zero": false}, "title": null}
          }
        },
        {
          "data": {"name": "hline"},
          "mark": {"type": "text", "align": "left", "baseline": "middle", "dy": -9, "fontSize": 16, "color": "#000000"},
          "encoding": {
            "x": {"datum": 182, "type": "quantitative", "scale": {"domain": [-1.75, 218.08], "nice": false, "zero": false}, "axis": null},
            "y": {"field": "v", "type": "quantitative", "scale": {"domain": [33.8331, 36.4892], "nice": false, "zero": false}, "title": null},
            "text": {"field": "t"}
          }
        },
        {
          "data": {"values": [{"t": "77 zsike"}]},
          "mark": {"type": "text", "align": "left", "baseline": "middle", "dx": 3, "fontSize": 11, "color": "#000000"},
          "encoding": {
            "x": {"datum": -1.75, "type": "quantitative", "scale": {"domain": [-1.75, 218.08], "nice": false, "zero": false}, "axis": null},
            "y": {"datum": 36.41, "type": "quantitative", "scale": {"domain": [33.8331, 36.4892], "nice": false, "zero": false}},
            "text": {"field": "t"}
          }
        },
        {
          "data": {"name": "ptags"},
          "mark": {"type": "point", "shape": "M-1,0L-0.7,-0.32L1,-0.32L1,0.32L-0.7,0.32Z", "size": 1156, "filled": true, "opacity": 1, "stroke": "#000000", "strokeWidth": 1},
          "encoding": {
            "x": {"datum": 221.4, "type": "quantitative", "scale": {"domain": [-1.75, 218.08], "nice": false, "zero": false}, "axis": null},
            "y": {"field": "v", "type": "quantitative", "scale": {"domain": [33.8331, 36.4892], "nice": false, "zero": false}, "title": null},
            "color": {"field": "s", "type": "nominal", "scale": {"domain": ["lower", "upper", "close"], "range": ["#4ccf4c", "#f27b6c", "#000000"]}, "legend": null}
          }
        },
        {
          "data": {"name": "ptags"},
          "transform": [{"filter": "datum.s !== 'lower'"}],
          "mark": {"type": "text", "align": "center", "baseline": "middle", "dx": 2, "fontSize": 10},
          "encoding": {
            "x": {"datum": 221.4, "type": "quantitative", "scale": {"domain": [-1.75, 218.08], "nice": false, "zero": false}, "axis": null},
            "y": {"field": "v", "type": "quantitative", "scale": {"domain": [33.8331, 36.4892], "nice": false, "zero": false}, "title": null},
            "text": {"field": "v", "format": ".2f"},
            "color": {"condition": {"test": "datum.s === 'upper'", "value": "#000000"}, "value": "#ffffff"}
          }
        }
      ]
    },
    {
      "width": 1319,
      "height": 118,
      "layer": [
        {
          "data": {"name": "days"},
          "mark": {"type": "rule", "color": "#d2d2d2", "strokeWidth": 1},
          "encoding": {
            "x": {"field": "i", "type": "quantitative", "scale": {"domain": [-1.75, 218.08], "nice": false, "zero": false}, "axis": null}
          }
        },
        {
          "data": {"name": "rmilevels"},
          "transform": [{"filter": "datum.s === 'hi'"}],
          "mark": {"type": "rule", "color": "#ee0000", "strokeWidth": 2, "strokeDash": [7, 4]},
          "encoding": {
            "y": {"field": "v", "type": "quantitative", "scale": {"domain": [-5.08, 103.97], "nice": false, "zero": false}, "title": null, "axis": {"orient": "right", "values": [0, 50, 100], "grid": false, "tickSize": 5, "labelPadding": 3, "title": null}}
          }
        },
        {
          "data": {"name": "rmilevels"},
          "transform": [{"filter": "datum.s === 'mid'"}],
          "mark": {"type": "rule", "color": "#000000", "strokeWidth": 1},
          "encoding": {
            "y": {"field": "v", "type": "quantitative", "scale": {"domain": [-5.08, 103.97], "nice": false, "zero": false}, "title": null}
          }
        },
        {
          "data": {"name": "rmilevels"},
          "transform": [{"filter": "datum.s === 'lo'"}],
          "mark": {"type": "rule", "color": "#228b22", "strokeWidth": 2, "strokeDash": [7, 4]},
          "encoding": {
            "y": {"field": "v", "type": "quantitative", "scale": {"domain": [-5.08, 103.97], "nice": false, "zero": false}, "title": null}
          }
        },
        {
          "data": {"name": "rmi"},
          "mark": {"type": "line", "color": "#0000ee", "strokeWidth": 2.5},
          "encoding": {
            "x": {"field": "i", "type": "quantitative", "scale": {"domain": [-1.75, 218.08], "nice": false, "zero": false}, "axis": null},
            "y": {"field": "v", "type": "quantitative", "scale": {"domain": [-5.08, 103.97], "nice": false, "zero": false}, "title": null}
          }
        },
        {
          "data": {"values": [{"t": "RMI"}]},
          "mark": {"type": "text", "align": "left", "baseline": "middle", "dx": 3, "fontSize": 11, "color": "#000000"},
          "encoding": {
            "x": {"datum": -1.75, "type": "quantitative", "scale": {"domain": [-1.75, 218.08], "nice": false, "zero": false}, "axis": null},
            "y": {"datum": 87.6, "type": "quantitative", "scale": {"domain": [-5.08, 103.97], "nice": false, "zero": false}},
            "text": {"field": "t"}
          }
        },
        {
          "data": {"name": "rtags"},
          "mark": {"type": "point", "shape": "M-1,0L-0.7,-0.32L1,-0.32L1,0.32L-0.7,0.32Z", "size": 1156, "filled": true, "opacity": 1, "fill": "#0000ff", "stroke": "#000000", "strokeWidth": 1},
          "encoding": {
            "x": {"datum": 221.4, "type": "quantitative", "scale": {"domain": [-1.75, 218.08], "nice": false, "zero": false}, "axis": null},
            "y": {"field": "v", "type": "quantitative", "scale": {"domain": [-5.08, 103.97], "nice": false, "zero": false}, "title": null}
          }
        },
        {
          "data": {"name": "rtags"},
          "mark": {"type": "text", "align": "center", "baseline": "middle", "dx": 2, "fontSize": 10, "color": "#ffffff"},
          "encoding": {
            "x": {"datum": 221.4, "type": "quantitative", "scale": {"domain": [-1.75, 218.08], "nice": false, "zero": false}, "axis": null},
            "y": {"field": "v", "type": "quantitative", "scale": {"domain": [-5.08, 103.97], "nice": false, "zero": false}, "title": null},
            "text": {"field": "v", "format": ".2f"}
          }
        }
      ]
    },
    {
      "width": 1319,
      "height": 137,
      "layer": [
        {
          "data": {"name": "days"},
          "mark": {"type": "rule", "color": "#d2d2d2", "strokeWidth": 1},
          "encoding": {
            "x": {"field": "i", "type": "quantitative", "scale": {"domain": [-1.75, 218.08], "nice": false, "zero": false}, "axis": {"values": [11,24,37,50,63,76,89,102,115,128,141,154,167,180,193,206], "labels": true, "ticks": true, "tickSize": 5, "domain": false, "grid": false, "title": null, "labelPadding": 2, "labelOffset": 3, "labelFontSize": 11, "labelExpr": "['12/15','12/16','12/19','12/20','12/21','12/22','12/23','12/27','12/28','12/29','12/30','1/3','1/4','1/5','1/6','1/9'][(datum.value-11)/13]"}}
          }
        },
        {
          "data": {"name": "dmlevel"},
          "mark": {"type": "rule", "color": "#9a1adf", "strokeWidth": 1},
          "encoding": {
            "y": {"field": "v", "type": "quantitative", "scale": {"domain": [-2.38, 79.02], "nice": false, "zero": false}, "title": null, "axis": {"orient": "right", "values": [0, 20, 40, 60], "labelExpr": "datum.value === 20 ? '' : datum.label", "grid": false, "tickSize": 5, "labelPadding": 3, "title": null}}
          }
        },
        {
          "data": {"name": "dim"},
          "mark": {"type": "line", "color": "#e83a3a", "strokeWidth": 1},
          "encoding": {
            "x": {"field": "i", "type": "quantitative", "scale": {"domain": [-1.75, 218.08], "nice": false, "zero": false}, "title": null},
            "y": {"field": "v", "type": "quantitative", "scale": {"domain": [-2.38, 79.02], "nice": false, "zero": false}, "title": null}
          }
        },
        {
          "data": {"name": "dip"},
          "mark": {"type": "line", "color": "#1a1aee", "strokeWidth": 1},
          "encoding": {
            "x": {"field": "i", "type": "quantitative", "scale": {"domain": [-1.75, 218.08], "nice": false, "zero": false}, "title": null},
            "y": {"field": "v", "type": "quantitative", "scale": {"domain": [-2.38, 79.02], "nice": false, "zero": false}, "title": null}
          }
        },
        {
          "data": {"name": "adx"},
          "mark": {"type": "line", "color": "#0a640a", "strokeWidth": 3.5},
          "encoding": {
            "x": {"field": "i", "type": "quantitative", "scale": {"domain": [-1.75, 218.08], "nice": false, "zero": false}, "title": null},
            "y": {"field": "v", "type": "quantitative", "scale": {"domain": [-2.38, 79.02], "nice": false, "zero": false}, "title": null}
          }
        },
        {
          "data": {"values": [{"t": "DM", "v": 68.3}, {"t": "© 2012 NinjaTrader, LLC", "v": 1.0}]},
          "mark": {"type": "text", "align": "left", "baseline": "middle", "dx": 3, "fontSize": 11, "color": "#000000"},
          "encoding": {
            "x": {"datum": -1.75, "type": "quantitative", "scale": {"domain": [-1.75, 218.08], "nice": false, "zero": false}},
            "y": {"field": "v", "type": "quantitative", "scale": {"domain": [-2.38, 79.02], "nice": false, "zero": false}, "title": null},
            "text": {"field": "t"}
          }
        },
        {
          "data": {"name": "dtags"},
          "mark": {"type": "point", "shape": "M-1,0L-0.7,-0.32L1,-0.32L1,0.32L-0.7,0.32Z", "size": 1156, "filled": true, "opacity": 1, "stroke": "#000000", "strokeWidth": 1},
          "encoding": {
            "x": {"datum": 221.4, "type": "quantitative", "scale": {"domain": [-1.75, 218.08], "nice": false, "zero": false}},
            "y": {"field": "v", "type": "quantitative", "scale": {"domain": [-2.38, 79.02], "nice": false, "zero": false}, "title": null},
            "color": {"field": "s", "type": "nominal", "scale": {"domain": ["adx", "dim", "dip"], "range": ["#0a640a", "#ff0000", "#0000ff"]}, "legend": null}
          }
        },
        {
          "data": {"name": "dtags"},
          "mark": {"type": "text", "align": "center", "baseline": "middle", "dx": 2, "fontSize": 10, "color": "#ffffff"},
          "encoding": {
            "x": {"datum": 221.4, "type": "quantitative", "scale": {"domain": [-1.75, 218.08], "nice": false, "zero": false}},
            "y": {"field": "v", "type": "quantitative", "scale": {"domain": [-2.38, 79.02], "nice": false, "zero": false}, "title": null},
            "text": {"field": "v", "format": ".2f"}
          }
        }
      ]
    }
  ],
  "config": {
    "font": "Liberation Sans",
    "view": {"fill": "#a9a9a9", "stroke": "#000000", "strokeWidth": 1},
    "axis": {"labelFont": "Liberation Sans", "labelFontSize": 11, "labelColor": "#000000", "tickColor": "#000000", "domainColor": "#000000"},
    "text": {"font": "Liberation Sans"}
  }
}
